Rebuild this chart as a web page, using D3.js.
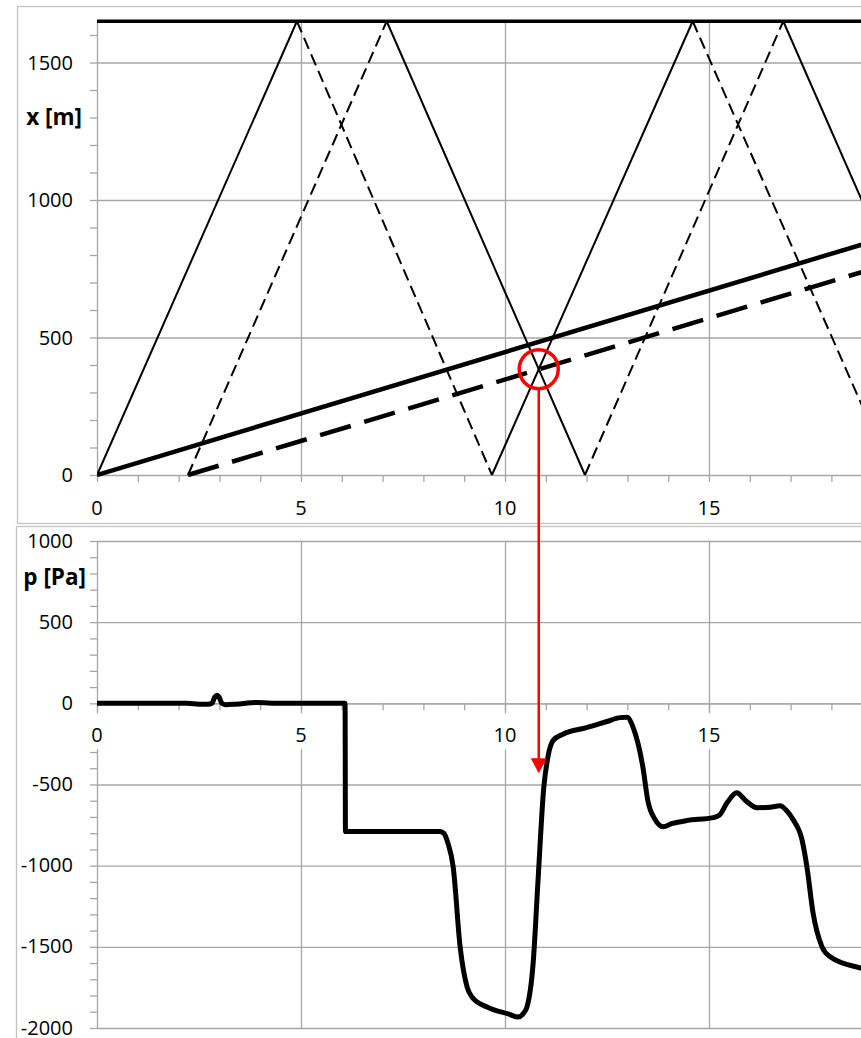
<!DOCTYPE html>
<meta charset="utf-8">
<style>
  body {
    margin: 0;
    overflow: hidden;
    background: #fff;
  }
  text {
    font-family: "Open Sans", "Noto Sans", sans-serif;
    font-size: 20px;
    fill: #000;
  }
  .title { font-weight: bold; font-size: 22.5px; }
  .axis path, .axis line { stroke: #a6a6a6; stroke-width: 1.3; }
  .grid line { stroke: #a6a6a6; stroke-width: 1.3; }
  .grid path { display: none; }
</style>
<body>
</body>
<script src="https://cdn.jsdelivr.net/npm/d3@7"></script>
<script>

// ---- data ----
var timeLabels = [0, 5, 10, 15];
var posLabels = [0, 500, 1000, 1500];
var presLabels = [1000, 500, 0, -500, -1000, -1500, -2000];

// pipe end (x = 1650 m)
var pipeEnd = [[0, 1650], [20, 1650]];

// two wave fronts bouncing between 0 and 1650 m (legs alternate solid / dashed)
var waveA = [[0, 0], [4.9, 1650], [9.68, 0], [14.6, 1650], [19.5, 0]];
var waveAStyle = ["solid", "dashed", "solid", "dashed"];
var waveB = [[2.23, 0], [7.1, 1650], [11.96, 0], [16.82, 1650], [21.7, 0]];
var waveBStyle = ["dashed", "solid", "dashed", "solid"];

// slow fronts
var slowSolid = [[0, 0], [20, 894]];
var slowDashed = [[2.23, 0], [20, 794]];

// pressure at the observed point
var pTime = [0, 2.2, 2.5, 2.72, 2.82, 2.88, 2.94, 3.0, 3.06, 3.15, 3.4, 3.9, 4.5, 6.08,
  6.09, 8.4, 8.5, 8.6, 8.73, 8.9, 9.07, 9.19, 9.56, 10.1, 10.32, 10.45, 10.54,
  10.69, 10.81, 10.95, 11.05, 11.18, 11.42, 12.0, 12.5, 12.82, 12.99, 13.14, 13.38,
  13.5, 13.68, 13.87, 14.1, 14.46, 15.1, 15.25, 15.45, 15.68, 15.9, 16.18,
  16.5, 16.74, 16.9, 17.06, 17.28, 17.4, 17.55, 17.77, 17.97, 18.7, 19.0];
var pValue = [0, 0, -5, -6, 0, 35, 50, 35, 0, -8, -5, 5, 0, 0,
  -790, -790, -800, -860, -1007, -1500, -1747, -1809, -1871, -1915, -1933, -1910, -1870,
  -1600, -1089, -520, -333, -228, -190, -150, -112, -88, -86, -148, -394,
  -598, -716, -760, -740, -722, -704, -690, -610, -551, -600, -643,
  -640, -631, -660, -716, -841, -1007, -1291, -1500, -1561, -1630, -1650];

var markTime = 10.827, markPos = 385, markPres = -431;

// ---- layout ----
var W = 861, H = 1038;

var svg = d3.select("body").append("svg")
    .attr("width", W)
    .attr("height", H);

var x = d3.scaleLinear().domain([0, 20]).range([97, 913]);
var yTop = d3.scaleLinear().domain([0, 1650]).range([475, 21.25]);
var yBot = d3.scaleLinear().domain([-2000, 1000]).range([1028, 541]);

// chart frames
svg.append("rect")
    .attr("x", 17.5).attr("y", 6.5)
    .attr("width", 900).attr("height", 517)
    .style("fill", "none").style("stroke", "#c4c4c4").style("stroke-width", 1.3);
svg.append("rect")
    .attr("x", 16.5).attr("y", 526.5)
    .attr("width", 900).attr("height", 530)
    .style("fill", "none").style("stroke", "#c4c4c4").style("stroke-width", 1.3);

svg.append("defs").append("clipPath")
    .attr("id", "clipTop")
  .append("rect")
    .attr("x", x(0)).attr("y", 0)
    .attr("width", x(20) - x(0)).attr("height", yTop(0) + 2);

// ================= top chart =================
var topChart = svg.append("g");

topChart.append("g")
    .attr("class", "grid")
    .attr("transform", "translate(" + x(0) + ",0)")
    .call(d3.axisLeft(yTop).tickValues([500, 1000, 1500]).tickSize(-(x(20) - x(0))).tickFormat(""));

topChart.append("g")
    .attr("class", "grid")
    .attr("transform", "translate(0," + yTop(1650) + ")")
    .call(d3.axisBottom(x).tickValues([5, 10, 15]).tickSize(yTop(0) - yTop(1650)).tickFormat(""));

topChart.append("g")
    .attr("class", "axis")
    .attr("transform", "translate(" + x(0) + ",0)")
    .call(d3.axisLeft(yTop).tickValues(d3.range(0, 1651, 100)).tickSize(7).tickSizeOuter(0).tickFormat(""));

topChart.append("g")
    .attr("class", "axis")
    .attr("transform", "translate(0," + yTop(0) + ")")
    .call(d3.axisBottom(x).tickValues(d3.range(0, 21)).tickSize(7).tickSizeOuter(0).tickFormat(""));

topChart.selectAll(".ylab")
    .data(posLabels)
  .enter().append("text")
    .attr("x", 73)
    .attr("y", d => yTop(d) + 7)
    .attr("text-anchor", "end")
    .text(d => d);

topChart.selectAll(".xlab")
    .data(timeLabels)
  .enter().append("text")
    .attr("x", d => x(d))
    .attr("y", yTop(0) + 40)
    .attr("text-anchor", "middle")
    .text(d => d);

topChart.append("text")
    .attr("class", "title")
    .attr("x", 82)
    .attr("y", 125)
    .attr("text-anchor", "end")
    .text("x [m]");

var lineTop = d3.line()
    .x(d => x(d[0]))
    .y(d => yTop(d[1]));

var lines = topChart.append("g").attr("clip-path", "url(#clipTop)");

function legs(pts, styles) {
  return styles.map((s, i) => ({pts: [pts[i], pts[i + 1]], style: s}));
}

lines.selectAll(".leg")
    .data(legs(waveA, waveAStyle).concat(legs(waveB, waveBStyle)))
  .enter().append("path")
    .attr("d", d => lineTop(d.pts))
    .style("fill", "none")
    .style("stroke", "#000")
    .style("stroke-width", 2)
    .style("stroke-dasharray", d => d.style == "dashed" ? "12,6" : null);

lines.append("path")
    .attr("d", lineTop(slowSolid))
    .style("fill", "none")
    .style("stroke", "#000")
    .style("stroke-width", 4.5);

lines.append("path")
    .attr("d", lineTop(slowDashed))
    .style("fill", "none")
    .style("stroke", "#000")
    .style("stroke-width", 4.5)
    .style("stroke-dasharray", "32,14");

topChart.append("path")
    .attr("d", lineTop(pipeEnd))
    .style("fill", "none")
    .style("stroke", "#000")
    .style("stroke-width", 3.5);

// ================= bottom chart =================
var botChart = svg.append("g");

botChart.append("g")
    .attr("class", "grid")
    .attr("transform", "translate(" + x(0) + ",0)")
    .call(d3.axisLeft(yBot).tickValues(presLabels).tickSize(-(x(20) - x(0))).tickFormat(""));

botChart.append("g")
    .attr("class", "grid")
    .attr("transform", "translate(0," + yBot(1000) + ")")
    .call(d3.axisBottom(x).tickValues([5, 10, 15, 20]).tickSize(yBot(-2000) - yBot(1000)).tickFormat(""));

botChart.append("g")
    .attr("class", "axis")
    .attr("transform", "translate(" + x(0) + ",0)")
    .call(d3.axisLeft(yBot).tickValues(d3.range(-2000, 1001, 100)).tickSize(7).tickSizeOuter(0).tickFormat(""));

botChart.append("g")
    .attr("class", "axis")
    .attr("transform", "translate(0," + yBot(0) + ")")
    .call(d3.axisBottom(x).tickValues(d3.range(0, 21)).tickSize(7).tickSizeOuter(0).tickFormat(""));

botChart.selectAll(".ylab")
    .data(presLabels)
  .enter().append("text")
    .attr("x", 73)
    .attr("y", d => yBot(d) + 6.5)
    .attr("text-anchor", "end")
    .text(d => d);

var xlabs = botChart.selectAll(".xlab")
    .data(timeLabels)
  .enter().append("g");

xlabs.append("rect")
    .attr("x", d => x(d) - (String(d).length * 6 + 3))
    .attr("y", yBot(0) + 10)
    .attr("width", d => String(d).length * 12 + 6)
    .attr("height", 36)
    .style("fill", "#fff");

xlabs.append("text")
    .attr("x", d => x(d))
    .attr("y", yBot(0) + 39)
    .attr("text-anchor", "middle")
    .text(d => d);

botChart.append("text")
    .attr("class", "title")
    .attr("x", 86)
    .attr("y", 585)
    .attr("text-anchor", "end")
    .text("p [Pa]");

var pData = pTime.map((t, i) => [t, pValue[i]]);

botChart.append("path")
    .datum(pData)
    .attr("d", d3.line()
        .curve(d3.curveMonotoneX)
        .x(d => x(d[0]))
        .y(d => yBot(d[1])))
    .style("fill", "none")
    .style("stroke", "#000")
    .style("stroke-width", 5)
    .style("stroke-linejoin", "round");

// ================= red marker =================
var red = "#ff0000";
var mx = x(markTime), my = yTop(markPos), tipY = yBot(markPres);

svg.append("circle")
    .attr("cx", mx)
    .attr("cy", my)
    .attr("r", 19.5)
    .style("fill", "none")
    .style("stroke", red)
    .style("stroke-width", 3.5);

svg.append("line")
    .attr("x1", mx).attr("x2", mx)
    .attr("y1", my + 20).attr("y2", tipY - 12)
    .style("stroke", red)
    .style("stroke-width", 2.5);

svg.append("path")
    .attr("d", "M" + (mx - 8) + "," + (tipY - 15) + "L" + (mx + 8) + "," + (tipY - 15) + "L" + mx + "," + tipY + "Z")
    .style("fill", red);

</script>
